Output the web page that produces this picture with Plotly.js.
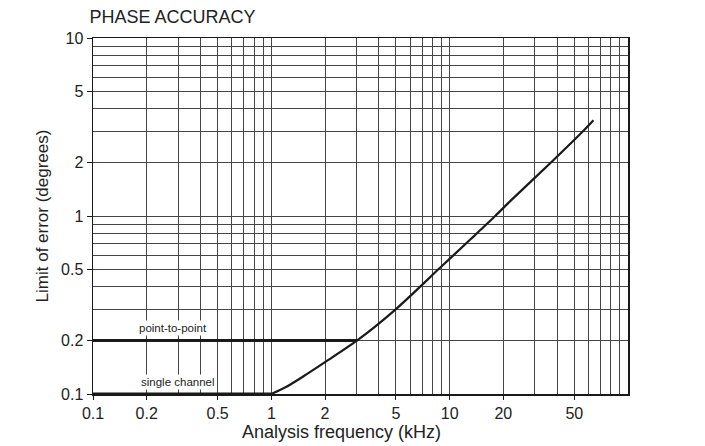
<!DOCTYPE html>
<html>
<head>
<meta charset="utf-8">
<script src="https://cdn.plot.ly/plotly-3.0.1.min.js"></script>
<style>html,body{margin:0;padding:0;background:#fff}#chart{width:705px;height:446px}</style>
</head>
<body>
<div id="chart"></div>
<script>
// Data
const singleFlatX = [0.1, 1];
const singleFlatY = [0.1, 0.1];
const p2pFlatX = [0.1, 3.03];
const p2pFlatY = [0.2, 0.2];
const curveX = [1, 1.2, 1.5, 2, 3.03, 5, 8.8, 13, 18, 22, 38, 57, 64];
const curveY = [0.1, 0.109, 0.125, 0.151, 0.2, 0.3, 0.51, 0.735, 1.0, 1.22, 2.05, 3.05, 3.45];
const xTickVals = [0.1, 0.2, 0.5, 1, 2, 5, 10, 20, 50];
const xTickText = ['0.1', '0.2', '0.5', '1', '2', '5', '10', '20', '50'];
const yTickVals = [0.1, 0.2, 0.5, 1, 2, 5, 10];
const yTickText = ['0.1', '0.2', '0.5', '1', '2', '5', '10'];
const labels = ['point-to-point', 'single channel'];
const labelX = [0.28, 0.3];
const labelY = [0.236, 0.117];

const minorX = [];
[0.1, 1, 10].forEach(d => { for (let k = 1; k <= 9; k++) minorX.push(+(d * k).toPrecision(3)); });
minorX.push(100);
const minorY = [];
[0.1, 1].forEach(d => { for (let k = 1; k <= 9; k++) minorY.push(+(d * k).toPrecision(3)); });
minorY.push(10);

const ink = '#1a1a1a';
const gridC = '#454545';
const fam = '"Liberation Sans", Arial, sans-serif';
const txt = '#222';

const traces = [
  {x: singleFlatX, y: singleFlatY, mode: 'lines', line: {color: ink, width: 3}, hoverinfo: 'skip'},
  {x: p2pFlatX, y: p2pFlatY, mode: 'lines', line: {color: ink, width: 3}, hoverinfo: 'skip'},
  {x: curveX, y: curveY, mode: 'lines', line: {color: ink, width: 2.2, shape: 'spline', smoothing: 0.8}, hoverinfo: 'skip'}
];

const layout = {
  width: 705, height: 446,
  margin: {l: 93, r: 77, t: 38, b: 52},
  paper_bgcolor: '#fff', plot_bgcolor: '#fff',
  showlegend: false,
  font: {family: fam, size: 16, color: txt},
  title: {text: 'PHASE ACCURACY', xref: 'container', yref: 'container', x: 0.127, xanchor: 'left', y: 0.962, yanchor: 'middle',
          font: {family: fam, size: 18, color: txt}},
  xaxis: {
    type: 'log', range: [-1, 2],
    tickmode: 'array', tickvals: xTickVals, ticktext: xTickText,
    ticks: 'outside', ticklen: 4, tickcolor: ink, tickwidth: 1,
    showgrid: true, gridcolor: gridC, gridwidth: 1,
    minor: {tickmode: 'array', tickvals: minorX, showgrid: true, gridcolor: gridC, gridwidth: 1, ticks: ''},
    showline: true, linecolor: ink, linewidth: 1.5, mirror: true,
    zeroline: false,
    tickfont: {family: fam, size: 16, color: txt}
  },
  yaxis: {
    type: 'log', range: [-1, 1],
    tickmode: 'array', tickvals: yTickVals, ticktext: yTickText,
    ticks: 'outside', ticklen: 5, tickcolor: ink, tickwidth: 1,
    showgrid: true, gridcolor: gridC, gridwidth: 1,
    minor: {tickmode: 'array', tickvals: minorY, showgrid: true, gridcolor: gridC, gridwidth: 1, ticks: ''},
    showline: true, linecolor: ink, linewidth: 1.5, mirror: true,
    zeroline: false,
    tickfont: {family: fam, size: 16, color: txt},
    title: {text: 'Limit of error (degrees)', standoff: 8, font: {family: fam, size: 17, color: txt}}
  },
  annotations: labels.map((t, i) => ({
    text: t, x: Math.log10(labelX[i]), y: Math.log10(labelY[i]), xref: 'x', yref: 'y',
    showarrow: false, bgcolor: '#fff', borderpad: 1,
    font: {family: fam, size: 11.5, color: txt}
  })).concat([{
    text: 'Analysis frequency (kHz)', xref: 'paper', yref: 'paper', x: 0.4636, y: -0.107,
    xanchor: 'center', yanchor: 'middle', showarrow: false,
    font: {family: fam, size: 18, color: txt}
  }])
};

Plotly.newPlot('chart', traces, layout, {staticPlot: true, displayModeBar: false});
</script>
</body>
</html>
